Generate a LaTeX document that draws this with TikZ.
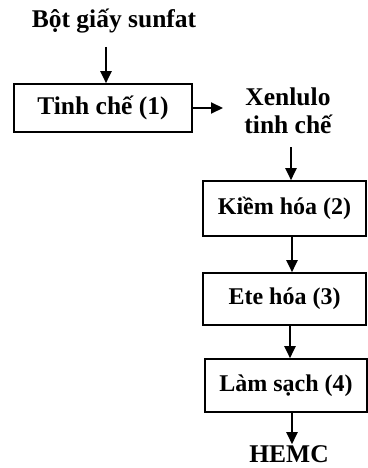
\documentclass[tikz,border=0pt]{standalone}
\usepackage{fontspec}
\setmainfont{Liberation Serif}
\usetikzlibrary{arrows.meta}
\begin{document}
\begin{tikzpicture}[x=1pt,y=-1pt,
  every node/.style={font=\fontsize{25.5}{28}\selectfont\bfseries, inner sep=0pt},
  boxnode/.style={draw, line width=1.6pt, minimum height=52pt},
  smallbox/.style={boxnode, font=\fontsize{24}{28}\selectfont\bfseries},
  arr/.style={line width=2pt, -{Triangle[length=12pt,width=11pt]}}]
\useasboundingbox (0,0) rectangle (367,468);
\node (src) at (114,21) {Bột giấy sunfat};
\node[boxnode, minimum width=178pt, minimum height=48pt] (b1) at (103,108) {Tinh chế (1)};
\node[align=center] (xen) at (288,111) {Xenlulo\\tinh chế};
\node[smallbox, minimum width=163pt, minimum height=55pt] (b2) at (284.5,208.5) {Kiềm hóa (2)};
\node[smallbox, minimum width=163pt, minimum height=52pt] (b3) at (284.5,299) {Ete hóa (3)};
\node[smallbox, minimum width=162pt, minimum height=53pt] (b4) at (286,385.5) {Làm sạch (4)};
\node (hemc) at (289,454) {HEMC};
\coordinate (a1) at (106,47);
\draw[arr] (a1) -- (a1 |- b1.north);
\coordinate (xr) at (223,108);
\draw[arr] (b1.east |- xr) -- (xr);
\coordinate (a2) at (291,147);
\draw[arr] (a2) -- (a2 |- b2.north);
\coordinate (a3) at (292,0);
\draw[arr] (a3 |- b2.south) -- (a3 |- b3.north);
\coordinate (a4) at (290,0);
\draw[arr] (a4 |- b3.south) -- (a4 |- b4.north);
\coordinate (a5) at (292,0);
\draw[arr] (a5 |- b4.south) -- ([yshift=1pt]a5 |- hemc.north);
\end{tikzpicture}
\end{document}
